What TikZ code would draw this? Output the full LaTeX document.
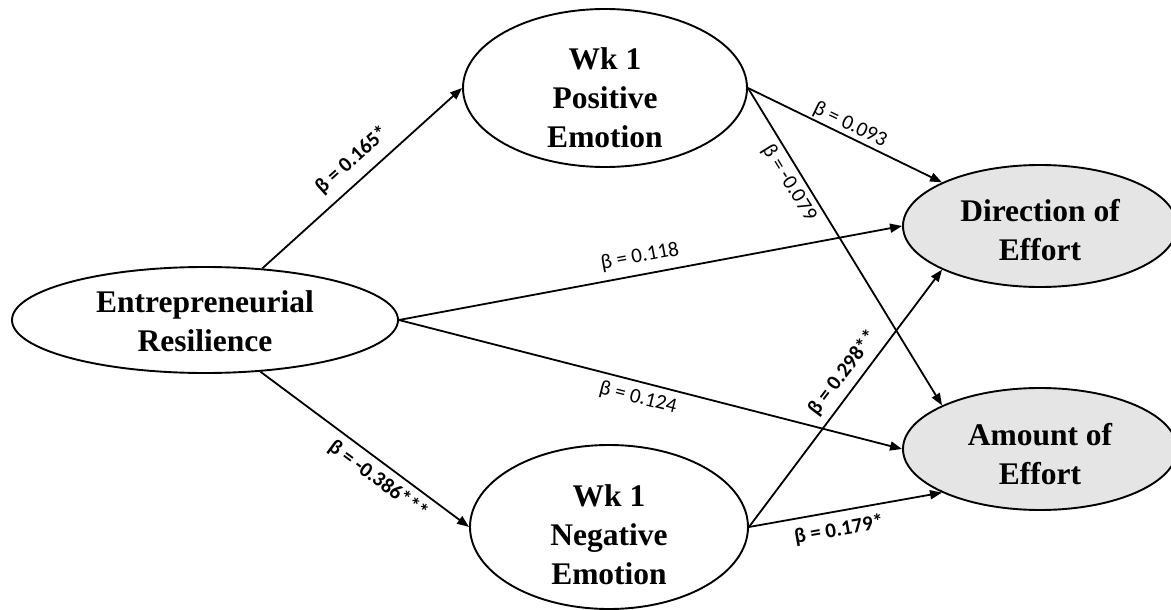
\documentclass[tikz,border=0pt]{standalone}
\usepackage{fontspec}
\setmainfont{Liberation Serif}
\newfontfamily\lblfont{Carlito}
\usetikzlibrary{arrows.meta,shapes.geometric}
\begin{document}
\begin{tikzpicture}[x=1pt,y=-1pt,
  ell/.style={ellipse, draw, line width=1.9pt, inner sep=0pt},
  latent/.style={ell, fill=white},
  outcome/.style={ell, fill=gray!20},
  txt/.style={align=center, inner sep=0pt, font=\fontsize{31.5}{39}\selectfont\bfseries},
  effect/.style={line width=1.8pt, -{Triangle[length=12pt,width=9pt]}},
  lbl/.style={inner sep=0pt, font=\lblfont\fontsize{21}{24}\selectfont},
  lblb/.style={inner sep=0pt, font=\lblfont\bfseries\fontsize{21}{24}\selectfont}
]
\useasboundingbox (0,0) rectangle (1171,610);
\clip (0,0) rectangle (1171,610);

% constructs
\node[latent, minimum width=386pt, minimum height=106pt,
  label={[txt, yshift=-1pt]center:Entrepreneurial\\Resilience}] (er) at (205,320) {};
\node[latent, minimum width=284pt, minimum height=158pt,
  label={[txt, yshift=-10pt]center:Wk 1\\Positive\\Emotion}] (pos) at (605,88) {};
\node[latent, minimum width=278pt, minimum height=164pt,
  label={[txt, yshift=-8pt]center:Wk 1\\Negative\\Emotion}] (neg) at (609,527) {};
\node[outcome, minimum width=274pt, minimum height=122pt,
  label={[txt, yshift=-4pt]center:Direction of\\Effort}] (dir) at (1040,226) {};
\node[outcome, minimum width=274pt, minimum height=122pt,
  label={[txt, yshift=-5pt]center:Amount of\\Effort}] (amt) at (1040,449) {};

% paths
\draw[effect] (er.42) -- (pos.west);
\draw[effect] (er.-43) -- (neg.west);
\draw[effect] (er.east) -- (dir.west);
\draw[effect] (er.east) -- (amt.west);
\draw[effect] (pos.east) -- (dir.156);
\draw[effect] (pos.east) -- (amt.156);
\draw[effect] (neg.east) -- (dir.204);
\draw[effect] (neg.east) -- (amt.204);

% coefficients
\node[lblb, rotate=42]    (l1) at (352,160) {β = 0.165*};
\node[lblb, rotate=-36.5] (l2) at (378,480) {β = -0.386***};
\node[lbl,  rotate=-25.6] (l3) at (850,125) {β = 0.093};
\node[lbl,  rotate=-58.2] (l4) at (789,183) {β = -0.079};
\node[lbl,  rotate=10.5]  (l5) at (640,257) {β = 0.118};
\node[lbl,  rotate=-14.3] (l6) at (638,398) {β = 0.124};
\node[lblb, rotate=52.7]  (l7) at (843,373) {β = 0.298**};
\node[lblb, rotate=10]    (l8) at (839,530) {β = 0.179*};
\end{tikzpicture}
\end{document}
